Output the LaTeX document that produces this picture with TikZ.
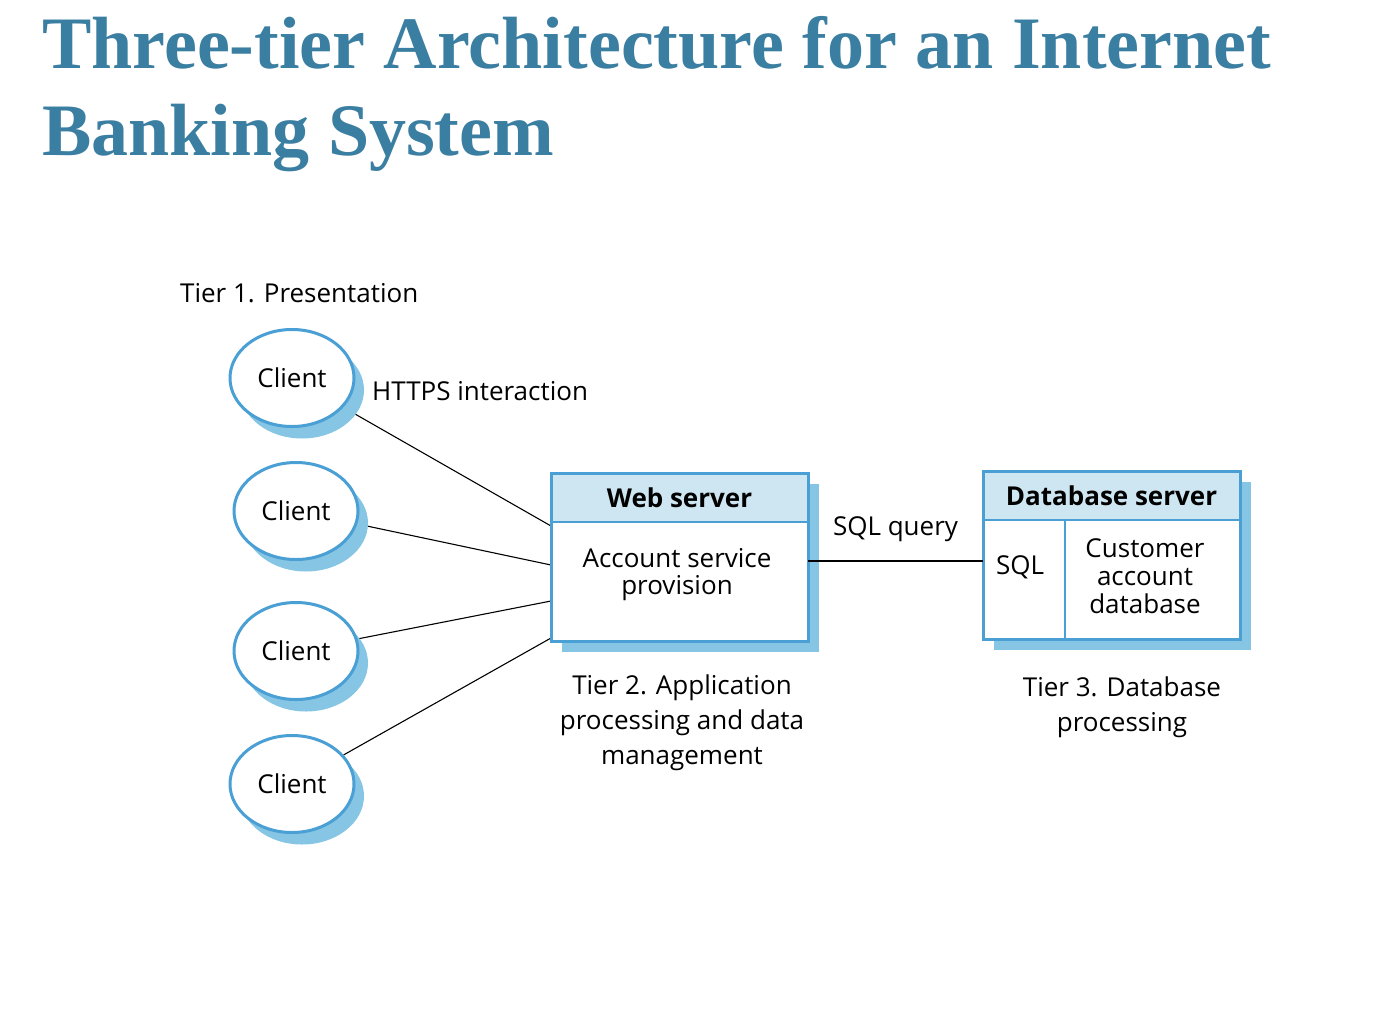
\documentclass[tikz,border=0pt]{standalone}
\usepackage{fontspec}
\setmainfont{Liberation Serif}
\newfontfamily\diagfont{Open Sans}
\usetikzlibrary{shapes.geometric,shadows,calc,positioning,backgrounds}
\definecolor{titleblue}{HTML}{3A7EA1}
\definecolor{edgeblue}{HTML}{4A9FD5}
\definecolor{shadeblue}{HTML}{86C5E3}
\definecolor{hdrblue}{HTML}{CDE6F1}

\begin{document}
\begin{tikzpicture}[x=1pt, y=-1pt,
  font=\diagfont\fontsize{26}{35}\selectfont,
  title/.style={anchor=base west, inner sep=0pt, text=titleblue,
    font=\rmfamily\bfseries\fontsize{74}{87}\selectfont},
  client/.style={ellipse, draw=edgeblue, line width=3pt, fill=white,
    minimum width=124pt, minimum height=97pt, inner sep=0pt,
    drop shadow={shadow xshift=10pt, shadow yshift=-12pt, fill=shadeblue, opacity=1}},
  srv/.style={rectangle, draw=edgeblue, line width=3pt, fill=white, outer sep=0pt,
    minimum width=257pt, minimum height=168pt, inner sep=0pt,
    drop shadow={shadow xshift=11pt, shadow yshift=-11pt, fill=shadeblue, opacity=1}},
  hdr/.style={rectangle, fill=hdrblue, draw=edgeblue, line width=1.5pt, outer sep=0pt,
    minimum width=257pt, minimum height=49pt, inner sep=0pt, anchor=north west,
    font=\diagfont\bfseries\fontsize{26}{30}\selectfont},
  rim/.style={draw=edgeblue, line width=3pt},
  split/.style={draw=edgeblue, line width=1.5pt},
  link/.style={line width=1.1pt},
  lbl/.style={align=center, inner sep=0pt}
]
\useasboundingbox (0,0) rectangle (1394,1020);

% ── Title ───────────────────────────────────────────────────────────────
\node[title] (title1) at (42,68) {Three-tier Architecture for an Internet};
\node[title] (title2) at (42,155) {Banking System};

% ── Tier 1: clients ─────────────────────────────────────────────────────
\node[lbl, anchor=west] (tier1) at (180,293) {Tier 1. Presentation};
\node[client] (c1) at (292,378) {Client};
\node[client] (c2) at (296,511) {Client};
\node[client] (c3) at (296,651) {Client};
\node[client] (c4) at (292,784) {Client};
\node[lbl, anchor=west] (https) at (372,391) {HTTPS interaction};

% ── Tier 2: web server ──────────────────────────────────────────────────
\node[srv] (web) at (679.5,557) {};
\node[hdr] (webhdr) at (web.north west) {Web server};
\draw[rim] (web.north west) rectangle (web.south east);
\node[lbl, font=\diagfont\fontsize{26}{27}\selectfont] (acct) at (677,575) {Account service\\provision};
\node[lbl] (tier2) at (682,723) {Tier 2. Application\\processing and data\\management};

% ── Tier 3: database server ─────────────────────────────────────────────
\node[srv] (db) at (1111.5,555) {};
\node[hdr] (dbhdr) at (db.north west) {Database server};
\coordinate (dbsplit) at ($(db.north west)+(82,0)$);
\draw[split] (dbsplit |- dbhdr.south) -- (dbsplit |- db.south);
\draw[rim] (db.north west) rectangle (db.south east);
\node[lbl] (sqlpart) at (1020,567) {SQL};
\node[lbl, font=\diagfont\fontsize{26}{28}\selectfont] (cust) at (1145,576) {Customer\\account\\database};
\node[lbl] (tier3) at (1122,707) {Tier 3. Database\\processing};

% ── Connectors ──────────────────────────────────────────────────────────
\begin{scope}[on background layer]
\foreach \i/\dy in {1/53,2/92,3/128,4/165} {
  \coordinate (w\i) at ($(web.north west)+(0,\dy)$);
  \draw[link] (c\i) -- (w\i);
}
\end{scope}
\draw[link] ($(web.east)+(0,4)$) -- ($(db.west)+(0,6)$)
  node[pos=0.5, lbl, above=19pt] (sqlq) {SQL query};

\end{tikzpicture}
\end{document}
